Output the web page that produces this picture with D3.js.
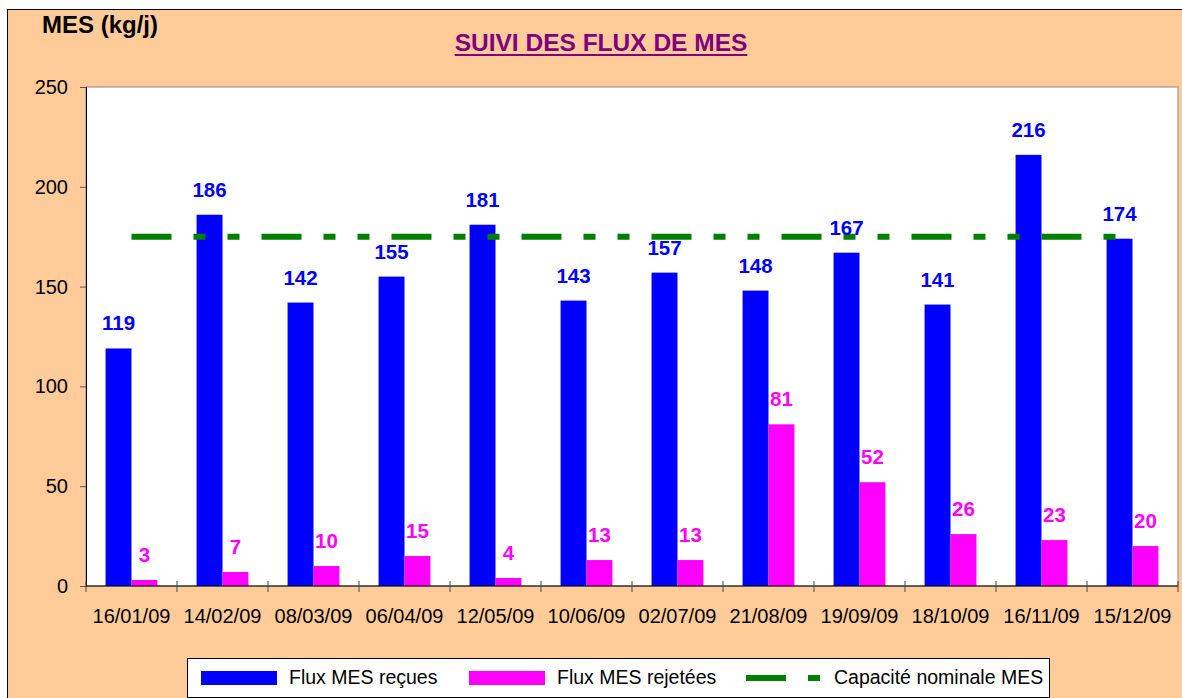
<!DOCTYPE html>
<html>
<head>
  <meta charset="utf-8">
  <title>Suivi des flux de MES</title>
  <script src="https://d3js.org/d3.v7.min.js"></script>
  <style>
    body { margin: 0; background: #ffffff; }
    text { font-family: "Liberation Sans", Arial, sans-serif; }
  </style>
</head>
<body>
<script>
  // donnees
  var dates = ["16/01/09", "14/02/09", "08/03/09", "06/04/09", "12/05/09", "10/06/09",
               "02/07/09", "21/08/09", "19/09/09", "18/10/09", "16/11/09", "15/12/09"];
  var fluxRecues = [119, 186, 142, 155, 181, 143, 157, 148, 167, 141, 216, 174];
  var fluxRejetees = [3, 7, 10, 15, 4, 13, 13, 81, 52, 26, 23, 20];
  var capaciteNominale = 175;
  var yTicks = [0, 50, 100, 150, 200, 250];
  var seriesNames = ["Flux MES reçues", "Flux MES rejetées", "Capacité nominale MES"];

  var W = 1182, H = 698;
  var plot = {left: 86, right: 1178, top: 87, bottom: 586};
  var dashPattern = "40,22,12,22,12,22";

  var svg = d3.select("body").append("svg")
    .attr("width", W)
    .attr("height", H);

  // fond du graphique
  svg.append("rect")
    .attr("x", 7.5).attr("y", 9.5)
    .attr("width", W + 20).attr("height", H + 20)
    .attr("fill", "#FFCC99")
    .attr("stroke", "#000");

  svg.append("rect")
    .attr("x", plot.left).attr("y", plot.top)
    .attr("width", plot.right - plot.left).attr("height", plot.bottom - plot.top)
    .attr("fill", "#fff")
    .attr("stroke", "#888");

  var y = d3.scaleLinear().domain([0, 250]).range([plot.bottom, plot.top]);
  var xOuter = d3.scaleBand().domain(dates).range([plot.left, plot.right]);
  var x = d3.scaleBand().domain(dates).range([plot.left, plot.right])
    .paddingInner(0.43).paddingOuter(0.215);
  var half = x.bandwidth() / 2;

  // axe Y
  var yAxis = svg.append("g")
    .attr("transform", "translate(" + plot.left + ",0)")
    .call(d3.axisLeft(y).tickValues(yTicks).tickSize(6).tickPadding(12));
  yAxis.select(".domain").attr("stroke", "#000");
  yAxis.selectAll(".tick line").attr("stroke", "#555");
  yAxis.selectAll(".tick text")
    .attr("font-size", "20px")
    .attr("fill", "#000")
    .style("font-family", "'Liberation Sans', Arial, sans-serif");

  // barres
  svg.append("g").selectAll("rect")
    .data(dates)
    .join("rect")
    .attr("x", function(d) { return x(d); })
    .attr("y", function(d, i) { return y(fluxRecues[i]); })
    .attr("width", half)
    .attr("height", function(d, i) { return y(0) - y(fluxRecues[i]); })
    .attr("fill", "#0000FF");

  svg.append("g").selectAll("rect")
    .data(dates)
    .join("rect")
    .attr("x", function(d) { return x(d) + half; })
    .attr("y", function(d, i) { return y(fluxRejetees[i]); })
    .attr("width", half)
    .attr("height", function(d, i) { return y(0) - y(fluxRejetees[i]); })
    .attr("fill", "#FF00FF");

  // ligne capacite nominale
  svg.append("line")
    .attr("x1", xOuter(dates[0]) + xOuter.bandwidth() / 2)
    .attr("x2", xOuter(dates[dates.length - 1]) + xOuter.bandwidth() / 2)
    .attr("y1", y(capaciteNominale))
    .attr("y2", y(capaciteNominale))
    .attr("stroke", "#008000")
    .attr("stroke-width", 6)
    .attr("stroke-dasharray", dashPattern);

  // etiquettes de valeurs
  svg.append("g").selectAll("text")
    .data(dates)
    .join("text")
    .attr("x", function(d) { return x(d) + half / 2; })
    .attr("y", function(d, i) { return y(fluxRecues[i]) - 18; })
    .attr("text-anchor", "middle")
    .attr("font-size", "20.5px")
    .attr("font-weight", "bold")
    .attr("fill", "#0000FF")
    .text(function(d, i) { return fluxRecues[i]; });

  svg.append("g").selectAll("text")
    .data(dates)
    .join("text")
    .attr("x", function(d) { return x(d) + half * 1.5; })
    .attr("y", function(d, i) { return y(fluxRejetees[i]) - 18; })
    .attr("text-anchor", "middle")
    .attr("font-size", "20.5px")
    .attr("font-weight", "bold")
    .attr("fill", "#FF00FF")
    .text(function(d, i) { return fluxRejetees[i]; });

  // axe X (graduations entre les categories)
  svg.append("line")
    .attr("x1", plot.left).attr("x2", plot.right)
    .attr("y1", plot.bottom).attr("y2", plot.bottom)
    .attr("stroke", "#000");
  var bounds = dates.map(function(d) { return xOuter(d); }).concat([plot.right]);
  svg.append("g").selectAll("line")
    .data(bounds)
    .join("line")
    .attr("x1", function(d) { return d; }).attr("x2", function(d) { return d; })
    .attr("y1", plot.bottom - 5).attr("y2", plot.bottom + 6)
    .attr("stroke", "#444");
  svg.append("g").selectAll("text")
    .data(dates)
    .join("text")
    .attr("x", function(d) { return xOuter(d) + xOuter.bandwidth() / 2; })
    .attr("y", 623)
    .attr("text-anchor", "middle")
    .attr("font-size", "20px")
    .attr("fill", "#000")
    .text(function(d) { return d; });

  // titres
  svg.append("text")
    .attr("x", 42).attr("y", 33)
    .attr("font-size", "24px")
    .attr("font-weight", "bold")
    .text("MES (kg/j)");

  var title = svg.append("text")
    .attr("x", 601).attr("y", 51)
    .attr("text-anchor", "middle")
    .attr("font-size", "24.5px")
    .attr("font-weight", "bold")
    .attr("fill", "#800080")
    .text("SUIVI DES FLUX DE MES");
  var tw = title.node().getComputedTextLength();
  svg.append("line")
    .attr("x1", 601 - tw / 2).attr("x2", 601 + tw / 2)
    .attr("y1", 55).attr("y2", 55)
    .attr("stroke", "#800080")
    .attr("stroke-width", 2);

  // legende
  var legend = svg.append("g");
  legend.append("rect")
    .attr("x", 187.5).attr("y", 658.5)
    .attr("width", 862).attr("height", 39)
    .attr("fill", "#fff")
    .attr("stroke", "#000");
  legend.append("rect").attr("x", 201).attr("y", 671).attr("width", 76).attr("height", 14).attr("fill", "#0000FF");
  legend.append("rect").attr("x", 469).attr("y", 671).attr("width", 76).attr("height", 14).attr("fill", "#FF00FF");
  legend.append("line")
    .attr("x1", 746).attr("x2", 822)
    .attr("y1", 678).attr("y2", 678)
    .attr("stroke", "#008000")
    .attr("stroke-width", 6)
    .attr("stroke-dasharray", dashPattern);
  var legendX = [289, 557, 834];
  legend.selectAll("text.lg")
    .data(seriesNames)
    .join("text")
    .attr("class", "lg")
    .attr("x", function(d, i) { return legendX[i]; })
    .attr("y", 684)
    .attr("font-size", "19.5px")
    .attr("fill", "#000")
    .text(function(d) { return d; });
</script>
</body>
</html>
